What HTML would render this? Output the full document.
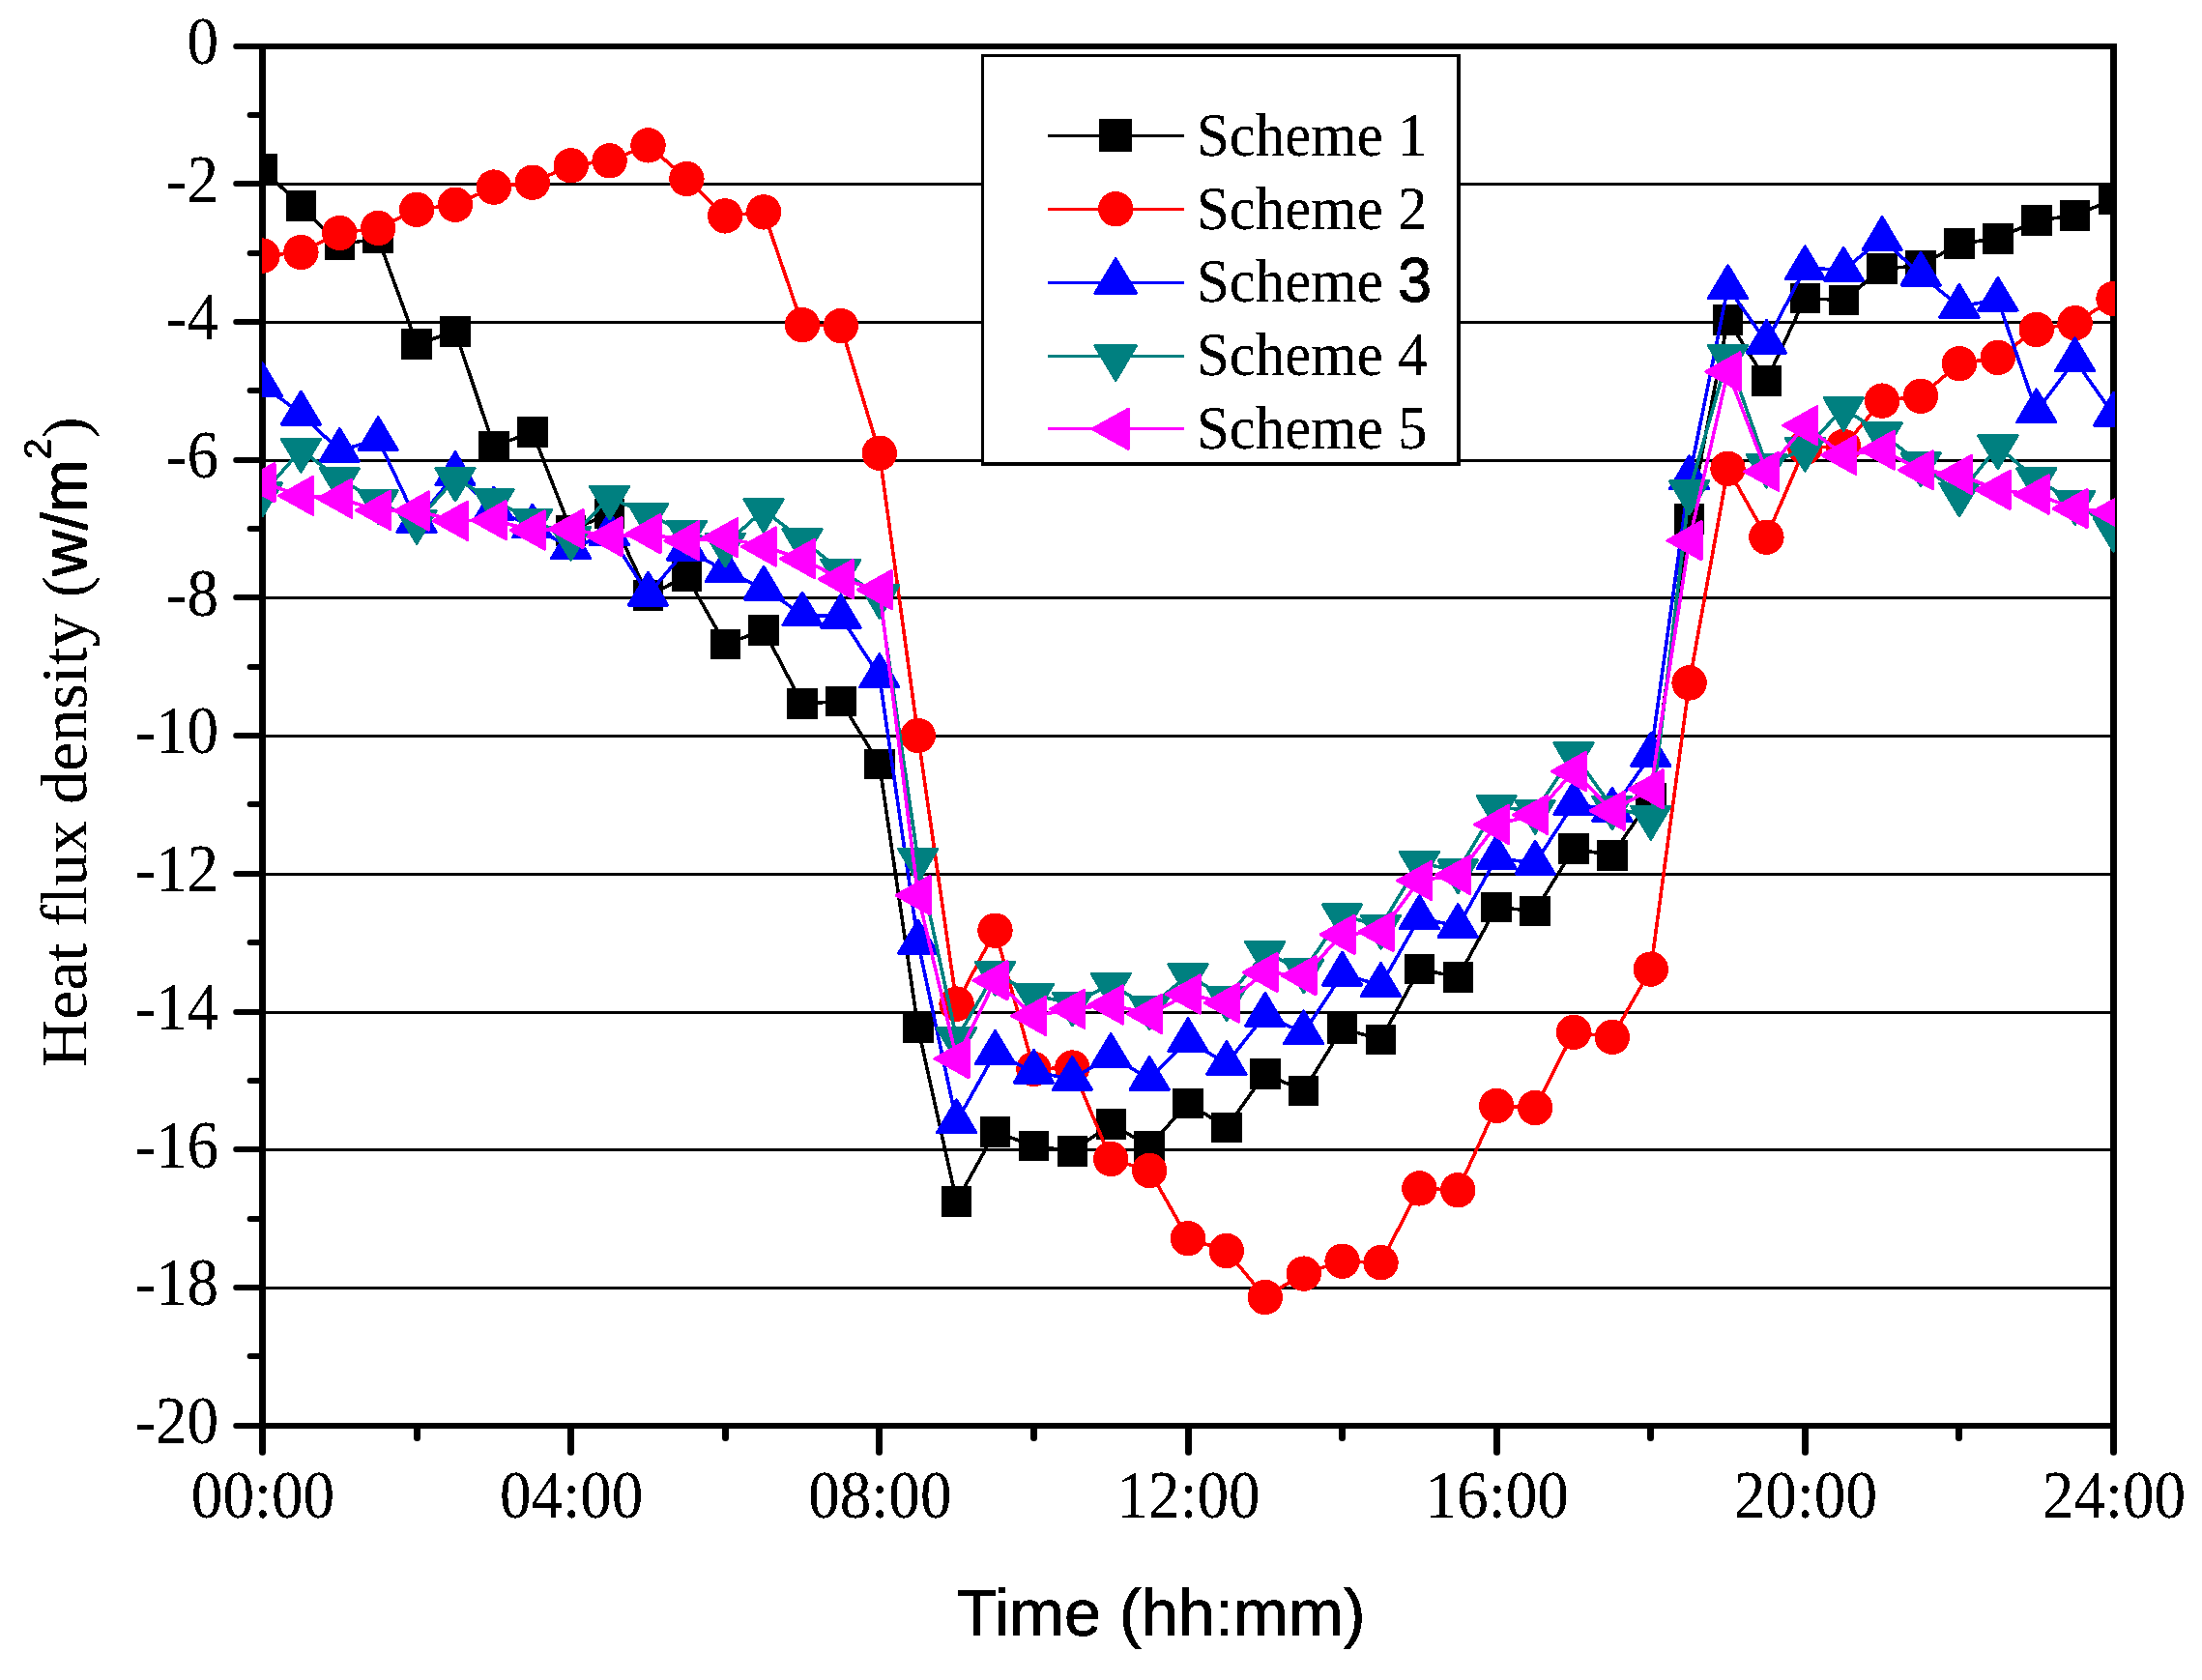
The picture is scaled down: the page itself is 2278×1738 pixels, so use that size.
<!DOCTYPE html>
<html lang="en"><head><meta charset="utf-8"><title>Heat flux density</title>
<style>html,body{margin:0;padding:0;background:#fff}body{width:2278px;height:1738px;overflow:hidden}svg{display:block}.ser{font-family:"Liberation Serif",serif}.san{font-family:"Liberation Sans",sans-serif}</style>
</head><body>
<svg width="2278" height="1738" viewBox="0 0 2278 1738">
<rect width="2278" height="1738" fill="#fff"/>
<defs><filter id="bw" filterUnits="userSpaceOnUse" x="0" y="0" width="2278" height="1738" color-interpolation-filters="sRGB"><feComponentTransfer><feFuncA type="discrete" tableValues="0 0 1 1 1"/></feComponentTransfer></filter><clipPath id="pc"><rect x="271" y="40" width="1917" height="1442"/></clipPath></defs>
<g fill="#000" shape-rendering="crispEdges"><rect x="272" y="189" width="1914" height="3"/><rect x="272" y="332" width="1914" height="3"/><rect x="272" y="475" width="1914" height="3"/><rect x="272" y="617" width="1914" height="3"/><rect x="272" y="760" width="1914" height="3"/><rect x="272" y="903" width="1914" height="3"/><rect x="272" y="1046" width="1914" height="3"/><rect x="272" y="1188" width="1914" height="3"/><rect x="272" y="1331" width="1914" height="3"/></g>
<g fill="#000" shape-rendering="crispEdges">
<rect x="268" y="45" width="1922" height="6"/>
<rect x="268" y="1472" width="1922" height="6"/>
<rect x="268" y="45" width="7" height="1433"/>
<rect x="2183" y="45" width="7" height="1433"/>
</g>
<g stroke="#000" stroke-width="6" stroke-linecap="round"><line x1="244.2" y1="48" x2="271" y2="48"/><line x1="258.6" y1="119" x2="271" y2="119"/><line x1="244.2" y1="190" x2="271" y2="190"/><line x1="258.6" y1="262" x2="271" y2="262"/><line x1="244.2" y1="333" x2="271" y2="333"/><line x1="258.6" y1="404" x2="271" y2="404"/><line x1="244.2" y1="476" x2="271" y2="476"/><line x1="258.6" y1="547" x2="271" y2="547"/><line x1="244.2" y1="618" x2="271" y2="618"/><line x1="258.6" y1="690" x2="271" y2="690"/><line x1="244.2" y1="761" x2="271" y2="761"/><line x1="258.6" y1="832" x2="271" y2="832"/><line x1="244.2" y1="904" x2="271" y2="904"/><line x1="258.6" y1="975" x2="271" y2="975"/><line x1="244.2" y1="1047" x2="271" y2="1047"/><line x1="258.6" y1="1118" x2="271" y2="1118"/><line x1="244.2" y1="1189" x2="271" y2="1189"/><line x1="258.6" y1="1261" x2="271" y2="1261"/><line x1="244.2" y1="1332" x2="271" y2="1332"/><line x1="258.6" y1="1403" x2="271" y2="1403"/><line x1="244.2" y1="1475" x2="271" y2="1475"/></g><g stroke="#000" stroke-width="7" stroke-linecap="round"><line x1="271.5" y1="1476" x2="271.5" y2="1502.3"/><line x1="431.5" y1="1476" x2="431.5" y2="1487.6"/><line x1="590.5" y1="1476" x2="590.5" y2="1502.3"/><line x1="750.5" y1="1476" x2="750.5" y2="1487.6"/><line x1="909.5" y1="1476" x2="909.5" y2="1502.3"/><line x1="1069.5" y1="1476" x2="1069.5" y2="1487.6"/><line x1="1229.5" y1="1476" x2="1229.5" y2="1502.3"/><line x1="1388.5" y1="1476" x2="1388.5" y2="1487.6"/><line x1="1548.5" y1="1476" x2="1548.5" y2="1502.3"/><line x1="1707.5" y1="1476" x2="1707.5" y2="1487.6"/><line x1="1867.5" y1="1476" x2="1867.5" y2="1502.3"/><line x1="2026.5" y1="1476" x2="2026.5" y2="1487.6"/><line x1="2186.5" y1="1476" x2="2186.5" y2="1502.3"/></g>
<g clip-path="url(#pc)" shape-rendering="crispEdges">
<polyline points="271.5,174.9 311.4,213 351.3,253.3 391.2,246.5 431.1,356 471,343 510.9,461.7 550.8,447 590.7,548.7 630.6,531.2 670.5,616.1 710.4,596 750.2,666.5 790.1,651.9 830,728.1 869.9,725.5 909.8,790.6 949.7,1063.1 989.6,1243.1 1029.5,1171 1069.4,1185.5 1109.3,1191 1149.2,1163 1189.1,1185.7 1229,1141.4 1268.9,1166.3 1308.8,1111 1348.7,1128.5 1388.6,1064 1428.5,1075.5 1468.4,1002.4 1508.3,1011 1548.2,938.6 1588.1,942.4 1628,878 1667.9,884.9 1707.8,825.7 1747.6,536.7 1787.5,331.2 1827.4,393.8 1867.3,308.7 1907.2,310.5 1947.1,278.1 1987,274.8 2026.9,252 2066.8,246.8 2106.7,228.1 2146.6,222.9 2186.5,206" fill="none" stroke="#000000" stroke-width="3.6" stroke-linejoin="round"/>
<g fill="#000000">
<rect x="255.8" y="159.2" width="31.5" height="31.5"/><rect x="295.6" y="197.2" width="31.5" height="31.5"/><rect x="335.5" y="237.6" width="31.5" height="31.5"/><rect x="375.4" y="230.8" width="31.5" height="31.5"/><rect x="415.3" y="340.2" width="31.5" height="31.5"/><rect x="455.2" y="327.2" width="31.5" height="31.5"/><rect x="495.1" y="445.9" width="31.5" height="31.5"/><rect x="535" y="431.2" width="31.5" height="31.5"/><rect x="574.9" y="533" width="31.5" height="31.5"/><rect x="614.8" y="515.5" width="31.5" height="31.5"/><rect x="654.7" y="600.4" width="31.5" height="31.5"/><rect x="694.6" y="580.2" width="31.5" height="31.5"/><rect x="734.5" y="650.8" width="31.5" height="31.5"/><rect x="774.4" y="636.1" width="31.5" height="31.5"/><rect x="814.3" y="712.4" width="31.5" height="31.5"/><rect x="854.2" y="709.8" width="31.5" height="31.5"/><rect x="894.1" y="774.9" width="31.5" height="31.5"/><rect x="934" y="1047.3" width="31.5" height="31.5"/><rect x="973.9" y="1227.3" width="31.5" height="31.5"/><rect x="1013.8" y="1155.2" width="31.5" height="31.5"/><rect x="1053.7" y="1169.8" width="31.5" height="31.5"/><rect x="1093.6" y="1175.2" width="31.5" height="31.5"/><rect x="1133.5" y="1147.2" width="31.5" height="31.5"/><rect x="1173.4" y="1170" width="31.5" height="31.5"/><rect x="1213.2" y="1125.7" width="31.5" height="31.5"/><rect x="1253.1" y="1150.5" width="31.5" height="31.5"/><rect x="1293" y="1095.2" width="31.5" height="31.5"/><rect x="1332.9" y="1112.8" width="31.5" height="31.5"/><rect x="1372.8" y="1048.2" width="31.5" height="31.5"/><rect x="1412.7" y="1059.8" width="31.5" height="31.5"/><rect x="1452.6" y="986.6" width="31.5" height="31.5"/><rect x="1492.5" y="995.2" width="31.5" height="31.5"/><rect x="1532.4" y="922.9" width="31.5" height="31.5"/><rect x="1572.3" y="926.6" width="31.5" height="31.5"/><rect x="1612.2" y="862.2" width="31.5" height="31.5"/><rect x="1652.1" y="869.1" width="31.5" height="31.5"/><rect x="1692" y="810" width="31.5" height="31.5"/><rect x="1731.9" y="521" width="31.5" height="31.5"/><rect x="1771.8" y="315.4" width="31.5" height="31.5"/><rect x="1811.7" y="378.1" width="31.5" height="31.5"/><rect x="1851.6" y="292.9" width="31.5" height="31.5"/><rect x="1891.5" y="294.8" width="31.5" height="31.5"/><rect x="1931.4" y="262.4" width="31.5" height="31.5"/><rect x="1971.3" y="259.1" width="31.5" height="31.5"/><rect x="2011.2" y="236.2" width="31.5" height="31.5"/><rect x="2051.1" y="231.1" width="31.5" height="31.5"/><rect x="2091" y="212.3" width="31.5" height="31.5"/><rect x="2130.9" y="207.2" width="31.5" height="31.5"/><rect x="2170.8" y="190.2" width="31.5" height="31.5"/>
</g>
<polyline points="271.5,264.6 311.4,261 351.3,241 391.2,236 431.1,216.9 471,211.7 510.9,193.6 550.8,188.7 590.7,171.3 630.6,166.3 670.5,150.4 710.4,185 750.2,223.4 790.1,219.4 830,336.1 869.9,337.1 909.8,468.7 949.7,761 989.6,1038.6 1029.5,962.7 1069.4,1106 1109.3,1104.5 1149.2,1199 1189.1,1211 1229,1281.1 1268.9,1294 1308.8,1342 1348.7,1317.6 1388.6,1304.7 1428.5,1306.2 1468.4,1229.4 1508.3,1231.2 1548.2,1144 1588.1,1146 1628,1067.9 1667.9,1072.9 1707.8,1002.6 1747.6,706.4 1787.5,484.8 1827.4,555.7 1867.3,463 1907.2,462 1947.1,414.6 1987,409.8 2026.9,376.2 2066.8,369.9 2106.7,340.9 2146.6,334.2 2186.5,309" fill="none" stroke="#ff0000" stroke-width="3.6" stroke-linejoin="round"/>
<g fill="#ff0000">
<circle cx="271.5" cy="264.6" r="18.2"/><circle cx="311.4" cy="261" r="18.2"/><circle cx="351.3" cy="241" r="18.2"/><circle cx="391.2" cy="236" r="18.2"/><circle cx="431.1" cy="216.9" r="18.2"/><circle cx="471" cy="211.7" r="18.2"/><circle cx="510.9" cy="193.6" r="18.2"/><circle cx="550.8" cy="188.7" r="18.2"/><circle cx="590.7" cy="171.3" r="18.2"/><circle cx="630.6" cy="166.3" r="18.2"/><circle cx="670.5" cy="150.4" r="18.2"/><circle cx="710.4" cy="185" r="18.2"/><circle cx="750.2" cy="223.4" r="18.2"/><circle cx="790.1" cy="219.4" r="18.2"/><circle cx="830" cy="336.1" r="18.2"/><circle cx="869.9" cy="337.1" r="18.2"/><circle cx="909.8" cy="468.7" r="18.2"/><circle cx="949.7" cy="761" r="18.2"/><circle cx="989.6" cy="1038.6" r="18.2"/><circle cx="1029.5" cy="962.7" r="18.2"/><circle cx="1069.4" cy="1106" r="18.2"/><circle cx="1109.3" cy="1104.5" r="18.2"/><circle cx="1149.2" cy="1199" r="18.2"/><circle cx="1189.1" cy="1211" r="18.2"/><circle cx="1229" cy="1281.1" r="18.2"/><circle cx="1268.9" cy="1294" r="18.2"/><circle cx="1308.8" cy="1342" r="18.2"/><circle cx="1348.7" cy="1317.6" r="18.2"/><circle cx="1388.6" cy="1304.7" r="18.2"/><circle cx="1428.5" cy="1306.2" r="18.2"/><circle cx="1468.4" cy="1229.4" r="18.2"/><circle cx="1508.3" cy="1231.2" r="18.2"/><circle cx="1548.2" cy="1144" r="18.2"/><circle cx="1588.1" cy="1146" r="18.2"/><circle cx="1628" cy="1067.9" r="18.2"/><circle cx="1667.9" cy="1072.9" r="18.2"/><circle cx="1707.8" cy="1002.6" r="18.2"/><circle cx="1747.6" cy="706.4" r="18.2"/><circle cx="1787.5" cy="484.8" r="18.2"/><circle cx="1827.4" cy="555.7" r="18.2"/><circle cx="1867.3" cy="463" r="18.2"/><circle cx="1907.2" cy="462" r="18.2"/><circle cx="1947.1" cy="414.6" r="18.2"/><circle cx="1987" cy="409.8" r="18.2"/><circle cx="2026.9" cy="376.2" r="18.2"/><circle cx="2066.8" cy="369.9" r="18.2"/><circle cx="2106.7" cy="340.9" r="18.2"/><circle cx="2146.6" cy="334.2" r="18.2"/><circle cx="2186.5" cy="309" r="18.2"/>
</g>
<polyline points="271.5,398.5 311.4,427.9 351.3,466.2 391.2,454.5 431.1,539.2 471,490.6 510.9,526.7 550.8,544.8 590.7,566.4 630.6,552.8 670.5,615 710.4,568 750.2,590.7 790.1,609 830,635.7 869.9,638.1 909.8,699.5 949.7,975 989.6,1160.5 1029.5,1089.3 1069.4,1109 1109.3,1116.2 1149.2,1092.4 1189.1,1116.2 1229,1076.4 1268.9,1100.2 1308.8,1050.2 1348.7,1068.6 1388.6,1007.9 1428.5,1019.3 1468.4,949.5 1508.3,958.3 1548.2,887.6 1588.1,893 1628,831.5 1667.9,838.1 1707.8,781.2 1747.6,494.5 1787.5,297.4 1827.4,354 1867.3,277.6 1907.2,279 1947.1,247.4 1987,284 2026.9,317.1 2066.8,310 2106.7,425.6 2146.6,372.6 2186.5,429.1" fill="none" stroke="#0000ff" stroke-width="3.6" stroke-linejoin="round"/>
<g fill="#0000ff" stroke="#0000ff" stroke-width="3" stroke-linejoin="round">
<path d="M271.5 375.8L291.6 409.6L251.3 409.6Z"/><path d="M311.4 405.2L331.5 439L291.2 439Z"/><path d="M351.3 443.5L371.4 477.3L331.1 477.3Z"/><path d="M391.2 431.8L411.3 465.6L371 465.6Z"/><path d="M431.1 516.5L451.2 550.3L410.9 550.3Z"/><path d="M471 467.9L491.1 501.7L450.8 501.7Z"/><path d="M510.9 504L531 537.8L490.7 537.8Z"/><path d="M550.8 522.1L570.9 555.9L530.6 555.9Z"/><path d="M590.7 543.7L610.8 577.5L570.5 577.5Z"/><path d="M630.6 530.1L650.7 563.9L610.4 563.9Z"/><path d="M670.5 592.3L690.6 626.1L650.3 626.1Z"/><path d="M710.4 545.3L730.5 579.1L690.2 579.1Z"/><path d="M750.2 568L770.4 601.8L730.1 601.8Z"/><path d="M790.1 586.3L810.3 620.1L770 620.1Z"/><path d="M830 613L850.2 646.8L809.9 646.8Z"/><path d="M869.9 615.4L890.1 649.2L849.8 649.2Z"/><path d="M909.8 676.8L930 710.6L889.7 710.6Z"/><path d="M949.7 952.3L969.9 986.1L929.6 986.1Z"/><path d="M989.6 1137.8L1009.8 1171.6L969.5 1171.6Z"/><path d="M1029.5 1066.6L1049.7 1100.4L1009.4 1100.4Z"/><path d="M1069.4 1086.3L1089.6 1120.1L1049.3 1120.1Z"/><path d="M1109.3 1093.5L1129.5 1127.3L1089.2 1127.3Z"/><path d="M1149.2 1069.7L1169.4 1103.5L1129.1 1103.5Z"/><path d="M1189.1 1093.5L1209.3 1127.3L1169 1127.3Z"/><path d="M1229 1053.7L1249.2 1087.5L1208.8 1087.5Z"/><path d="M1268.9 1077.5L1289 1111.3L1248.7 1111.3Z"/><path d="M1308.8 1027.5L1328.9 1061.3L1288.6 1061.3Z"/><path d="M1348.7 1045.9L1368.8 1079.7L1328.5 1079.7Z"/><path d="M1388.6 985.2L1408.7 1019L1368.4 1019Z"/><path d="M1428.5 996.6L1448.6 1030.4L1408.3 1030.4Z"/><path d="M1468.4 926.8L1488.5 960.6L1448.2 960.6Z"/><path d="M1508.3 935.6L1528.4 969.4L1488.1 969.4Z"/><path d="M1548.2 864.9L1568.3 898.7L1528 898.7Z"/><path d="M1588.1 870.3L1608.2 904.1L1567.9 904.1Z"/><path d="M1628 808.8L1648.1 842.6L1607.8 842.6Z"/><path d="M1667.9 815.4L1688 849.2L1647.7 849.2Z"/><path d="M1707.8 758.5L1727.9 792.3L1687.6 792.3Z"/><path d="M1747.6 471.8L1767.8 505.6L1727.5 505.6Z"/><path d="M1787.5 274.7L1807.7 308.5L1767.4 308.5Z"/><path d="M1827.4 331.3L1847.6 365.1L1807.3 365.1Z"/><path d="M1867.3 254.9L1887.5 288.7L1847.2 288.7Z"/><path d="M1907.2 256.3L1927.4 290.1L1887.1 290.1Z"/><path d="M1947.1 224.7L1967.3 258.5L1927 258.5Z"/><path d="M1987 261.3L2007.2 295.1L1966.9 295.1Z"/><path d="M2026.9 294.4L2047.1 328.2L2006.8 328.2Z"/><path d="M2066.8 287.3L2087 321.1L2046.7 321.1Z"/><path d="M2106.7 402.9L2126.9 436.7L2086.6 436.7Z"/><path d="M2146.6 349.9L2166.8 383.7L2126.5 383.7Z"/><path d="M2186.5 406.4L2206.7 440.2L2166.3 440.2Z"/>
</g>
<polyline points="271.5,511 311.4,465.4 351.3,495.6 391.2,518.7 431.1,539.4 471,495.3 510.9,517.6 550.8,538.3 590.7,556.4 630.6,514.2 670.5,532.6 710.4,550.5 750.2,563.3 790.1,527.6 830,558.6 869.9,590.2 909.8,616.4 949.7,889.3 989.6,1074.8 1029.5,1006.4 1069.4,1029.5 1109.3,1038.1 1149.2,1018.3 1189.1,1042.1 1229,1008.8 1268.9,1032.6 1308.8,985.7 1348.7,1004 1388.6,946.9 1428.5,958.3 1468.4,892.6 1508.3,901 1548.2,834.5 1588.1,839.4 1628,779.8 1667.9,835.2 1707.8,845.5 1747.6,508.8 1787.5,368.8 1827.4,481.4 1867.3,464.3 1907.2,422.6 1947.1,448.8 1987,480 2026.9,511.1 2066.8,462 2106.7,495.8 2146.6,519.7 2186.5,547.3" fill="none" stroke="#008080" stroke-width="3.6" stroke-linejoin="round"/>
<g fill="#008080" stroke="#008080" stroke-width="3" stroke-linejoin="round">
<path d="M271.5 533.7L291.6 499.9L251.3 499.9Z"/><path d="M311.4 488.1L331.5 454.3L291.2 454.3Z"/><path d="M351.3 518.3L371.4 484.5L331.1 484.5Z"/><path d="M391.2 541.4L411.3 507.6L371 507.6Z"/><path d="M431.1 562.1L451.2 528.3L410.9 528.3Z"/><path d="M471 518L491.1 484.2L450.8 484.2Z"/><path d="M510.9 540.3L531 506.5L490.7 506.5Z"/><path d="M550.8 561L570.9 527.2L530.6 527.2Z"/><path d="M590.7 579.1L610.8 545.3L570.5 545.3Z"/><path d="M630.6 536.9L650.7 503.1L610.4 503.1Z"/><path d="M670.5 555.3L690.6 521.5L650.3 521.5Z"/><path d="M710.4 573.2L730.5 539.4L690.2 539.4Z"/><path d="M750.2 586L770.4 552.2L730.1 552.2Z"/><path d="M790.1 550.3L810.3 516.5L770 516.5Z"/><path d="M830 581.3L850.2 547.5L809.9 547.5Z"/><path d="M869.9 612.9L890.1 579.1L849.8 579.1Z"/><path d="M909.8 639.1L930 605.3L889.7 605.3Z"/><path d="M949.7 912L969.9 878.2L929.6 878.2Z"/><path d="M989.6 1097.5L1009.8 1063.7L969.5 1063.7Z"/><path d="M1029.5 1029.1L1049.7 995.3L1009.4 995.3Z"/><path d="M1069.4 1052.2L1089.6 1018.4L1049.3 1018.4Z"/><path d="M1109.3 1060.8L1129.5 1027L1089.2 1027Z"/><path d="M1149.2 1041L1169.4 1007.2L1129.1 1007.2Z"/><path d="M1189.1 1064.8L1209.3 1031L1169 1031Z"/><path d="M1229 1031.5L1249.2 997.7L1208.8 997.7Z"/><path d="M1268.9 1055.3L1289 1021.5L1248.7 1021.5Z"/><path d="M1308.8 1008.4L1328.9 974.6L1288.6 974.6Z"/><path d="M1348.7 1026.7L1368.8 992.9L1328.5 992.9Z"/><path d="M1388.6 969.6L1408.7 935.8L1368.4 935.8Z"/><path d="M1428.5 981L1448.6 947.2L1408.3 947.2Z"/><path d="M1468.4 915.3L1488.5 881.5L1448.2 881.5Z"/><path d="M1508.3 923.7L1528.4 889.9L1488.1 889.9Z"/><path d="M1548.2 857.2L1568.3 823.4L1528 823.4Z"/><path d="M1588.1 862.1L1608.2 828.3L1567.9 828.3Z"/><path d="M1628 802.5L1648.1 768.7L1607.8 768.7Z"/><path d="M1667.9 857.9L1688 824.1L1647.7 824.1Z"/><path d="M1707.8 868.2L1727.9 834.4L1687.6 834.4Z"/><path d="M1747.6 531.5L1767.8 497.7L1727.5 497.7Z"/><path d="M1787.5 391.5L1807.7 357.7L1767.4 357.7Z"/><path d="M1827.4 504.1L1847.6 470.3L1807.3 470.3Z"/><path d="M1867.3 487L1887.5 453.2L1847.2 453.2Z"/><path d="M1907.2 445.3L1927.4 411.5L1887.1 411.5Z"/><path d="M1947.1 471.5L1967.3 437.7L1927 437.7Z"/><path d="M1987 502.7L2007.2 468.9L1966.9 468.9Z"/><path d="M2026.9 533.8L2047.1 500L2006.8 500Z"/><path d="M2066.8 484.7L2087 450.9L2046.7 450.9Z"/><path d="M2106.7 518.5L2126.9 484.7L2086.6 484.7Z"/><path d="M2146.6 542.4L2166.8 508.6L2126.5 508.6Z"/><path d="M2186.5 570L2206.7 536.2L2166.3 536.2Z"/>
</g>
<polyline points="271.5,499.2 311.4,512.9 351.3,515.7 391.2,527.9 431.1,528.5 471,538.8 510.9,538.2 550.8,548.5 590.7,547.2 630.6,555.2 670.5,552.3 710.4,559.4 750.2,556.1 790.1,565.5 830,578.1 869.9,599.2 909.8,610.1 949.7,926.2 989.6,1095.2 1029.5,1014.3 1069.4,1051 1109.3,1043.8 1149.2,1039.5 1189.1,1049 1229,1028.6 1268.9,1037.5 1308.8,1006 1348.7,1009.3 1388.6,966.9 1428.5,964 1468.4,911 1508.3,905.1 1548.2,853 1588.1,842.8 1628,798 1667.9,838.7 1707.8,816.4 1747.6,559.2 1787.5,384.5 1827.4,487.9 1867.3,440.2 1907.2,470.8 1947.1,465.7 1987,486.3 2026.9,491 2066.8,506.9 2106.7,511.6 2146.6,526.1 2186.5,529.9" fill="none" stroke="#ff00ff" stroke-width="3.6" stroke-linejoin="round"/>
<g fill="#ff00ff" stroke="#ff00ff" stroke-width="3" stroke-linejoin="round">
<path d="M248.9 499.2L284 479.6L284 518.8Z"/><path d="M288.8 512.9L323.9 493.3L323.9 532.5Z"/><path d="M328.7 515.7L363.8 496.1L363.8 535.3Z"/><path d="M368.6 527.9L403.7 508.3L403.7 547.5Z"/><path d="M408.5 528.5L443.6 508.9L443.6 548.1Z"/><path d="M448.4 538.8L483.5 519.2L483.5 558.4Z"/><path d="M488.3 538.2L523.4 518.6L523.4 557.8Z"/><path d="M528.2 548.5L563.3 528.9L563.3 568.1Z"/><path d="M568.1 547.2L603.2 527.6L603.2 566.8Z"/><path d="M608 555.2L643.1 535.6L643.1 574.8Z"/><path d="M647.9 552.3L683 532.7L683 571.9Z"/><path d="M687.8 559.4L722.9 539.8L722.9 579Z"/><path d="M727.6 556.1L762.8 536.5L762.8 575.7Z"/><path d="M767.5 565.5L802.6 545.9L802.6 585.1Z"/><path d="M807.4 578.1L842.5 558.5L842.5 597.7Z"/><path d="M847.3 599.2L882.4 579.6L882.4 618.8Z"/><path d="M887.2 610.1L922.3 590.5L922.3 629.7Z"/><path d="M927.1 926.2L962.2 906.6L962.2 945.8Z"/><path d="M967 1095.2L1002.1 1075.6L1002.1 1114.8Z"/><path d="M1006.9 1014.3L1042 994.7L1042 1033.9Z"/><path d="M1046.8 1051L1081.9 1031.4L1081.9 1070.6Z"/><path d="M1086.7 1043.8L1121.8 1024.2L1121.8 1063.4Z"/><path d="M1126.6 1039.5L1161.7 1019.9L1161.7 1059.1Z"/><path d="M1166.5 1049L1201.6 1029.4L1201.6 1068.6Z"/><path d="M1206.4 1028.6L1241.5 1009L1241.5 1048.2Z"/><path d="M1246.3 1037.5L1281.4 1017.9L1281.4 1057.1Z"/><path d="M1286.2 1006L1321.3 986.4L1321.3 1025.6Z"/><path d="M1326.1 1009.3L1361.2 989.7L1361.2 1028.9Z"/><path d="M1366 966.9L1401.1 947.3L1401.1 986.5Z"/><path d="M1405.9 964L1441 944.4L1441 983.6Z"/><path d="M1445.8 911L1480.9 891.4L1480.9 930.6Z"/><path d="M1485.7 905.1L1520.8 885.5L1520.8 924.7Z"/><path d="M1525.6 853L1560.7 833.4L1560.7 872.6Z"/><path d="M1565.5 842.8L1600.6 823.2L1600.6 862.4Z"/><path d="M1605.4 798L1640.5 778.4L1640.5 817.6Z"/><path d="M1645.3 838.7L1680.4 819.1L1680.4 858.3Z"/><path d="M1685.2 816.4L1720.2 796.8L1720.2 836Z"/><path d="M1725 559.2L1760.1 539.6L1760.1 578.8Z"/><path d="M1764.9 384.5L1800 364.9L1800 404.1Z"/><path d="M1804.8 487.9L1839.9 468.3L1839.9 507.5Z"/><path d="M1844.7 440.2L1879.8 420.6L1879.8 459.8Z"/><path d="M1884.6 470.8L1919.7 451.2L1919.7 490.4Z"/><path d="M1924.5 465.7L1959.6 446.1L1959.6 485.3Z"/><path d="M1964.4 486.3L1999.5 466.7L1999.5 505.9Z"/><path d="M2004.3 491L2039.4 471.4L2039.4 510.6Z"/><path d="M2044.2 506.9L2079.3 487.3L2079.3 526.5Z"/><path d="M2084.1 511.6L2119.2 492L2119.2 531.2Z"/><path d="M2124 526.1L2159.1 506.5L2159.1 545.7Z"/><path d="M2163.9 529.9L2199 510.3L2199 549.5Z"/>
</g>
</g>
<rect x="1016.2" y="57.2" width="492.8" height="422.6" fill="#fff" stroke="#000" stroke-width="3.4" shape-rendering="crispEdges"/>
<g shape-rendering="crispEdges">
<line x1="1084" y1="140.5" x2="1224.6" y2="140.5" stroke="#000000" stroke-width="3"/>
<g fill="#000000"><rect x="1137.2" y="123.4" width="34" height="34"/></g>
<line x1="1084" y1="216.4" x2="1224.6" y2="216.4" stroke="#ff0000" stroke-width="3"/>
<g fill="#ff0000"><circle cx="1154.2" cy="216.3" r="18.2"/></g>
<line x1="1084" y1="292.3" x2="1224.6" y2="292.3" stroke="#0000ff" stroke-width="3"/>
<g fill="#0000ff" stroke="#0000ff" stroke-width="3" stroke-linejoin="round" transform="translate(1154.2 291.6) scale(1.05) translate(-1154.2 -291.6)"><path d="M1154.2 268.9L1174.4 302.7L1134 302.7Z"/></g>
<line x1="1084" y1="368.1" x2="1224.6" y2="368.1" stroke="#008080" stroke-width="3"/>
<g fill="#008080" stroke="#008080" stroke-width="3" stroke-linejoin="round" transform="translate(1154.2 369.2) scale(1.05) translate(-1154.2 -369.2)"><path d="M1154.2 391.9L1174.4 358.1L1134 358.1Z"/></g>
<line x1="1084" y1="443.9" x2="1224.6" y2="443.9" stroke="#ff00ff" stroke-width="3"/>
<g fill="#ff00ff" stroke="#ff00ff" stroke-width="3" stroke-linejoin="round" transform="translate(1154.2 443.8) scale(1.05) translate(-1154.2 -443.8)"><path d="M1131.6 443.8L1166.7 424.2L1166.7 463.4Z"/></g>
</g>
<g filter="url(#bw)">
<g class="ser" font-size="62.8" fill="#000" stroke="#000" stroke-width="0">
<text transform="translate(1237.9 160.6) scale(0.97 1)">Scheme 1</text>
<text transform="translate(1237.9 236.5) scale(0.97 1)">Scheme 2</text>
<text transform="translate(1237.9 312.4) scale(0.97 1)" xml:space="preserve">Scheme <tspan class="san" font-size="65" stroke-width="0.9">3</tspan></text>
<text transform="translate(1237.9 388.2) scale(0.97 1)">Scheme 4</text>
<text transform="translate(1237.9 464) scale(0.97 1)">Scheme 5</text>
</g>
<g class="ser" font-size="69" fill="#000" stroke="#000" stroke-width="0" text-anchor="end">
<text transform="translate(226.1 65.8) scale(0.944 1)">0</text>
<text transform="translate(226.1 208.5) scale(0.944 1)">-2</text>
<text transform="translate(226.1 351.2) scale(0.944 1)">-4</text>
<text transform="translate(226.1 493.9) scale(0.944 1)">-6</text>
<text transform="translate(226.1 636.6) scale(0.944 1)">-8</text>
<text transform="translate(226.1 779.3) scale(0.944 1)">-10</text>
<text transform="translate(226.1 922.1) scale(0.944 1)">-12</text>
<text transform="translate(226.1 1064.8) scale(0.944 1)">-14</text>
<text transform="translate(226.1 1207.5) scale(0.944 1)">-16</text>
<text transform="translate(226.1 1350.2) scale(0.944 1)">-18</text>
<text transform="translate(226.1 1492.9) scale(0.944 1)">-20</text>
</g>
<g class="ser" font-size="69" fill="#000" stroke="#000" stroke-width="0" text-anchor="middle">
<text transform="translate(272 1569.5) scale(0.944 1)">00:00</text>
<text transform="translate(591.2 1569.5) scale(0.944 1)">04:00</text>
<text transform="translate(910.3 1569.5) scale(0.944 1)">08:00</text>
<text transform="translate(1229.5 1569.5) scale(0.944 1)">12:00</text>
<text transform="translate(1548.7 1569.5) scale(0.944 1)">16:00</text>
<text transform="translate(1867.8 1569.5) scale(0.944 1)">20:00</text>
<text transform="translate(2187 1569.5) scale(0.944 1)">24:00</text>
</g>
<text class="san" font-size="68.4" x="989.5" y="1691.7" fill="#000" stroke="#000" stroke-width="0.7">Time (hh:mm)</text>
<text transform="translate(89.3 1104.2) rotate(-90) scale(1.0015 1)" class="ser" font-size="68" fill="#000" stroke="#000" stroke-width="0" xml:space="preserve">Heat flux density <tspan font-size="66">(</tspan><tspan class="san" font-size="65.8" stroke-width="0.7">w/m</tspan><tspan class="san" font-size="39.5" stroke-width="0.5" dy="-37">2</tspan><tspan font-size="66" dy="37">)</tspan></text>
</g>
</svg></body></html>
